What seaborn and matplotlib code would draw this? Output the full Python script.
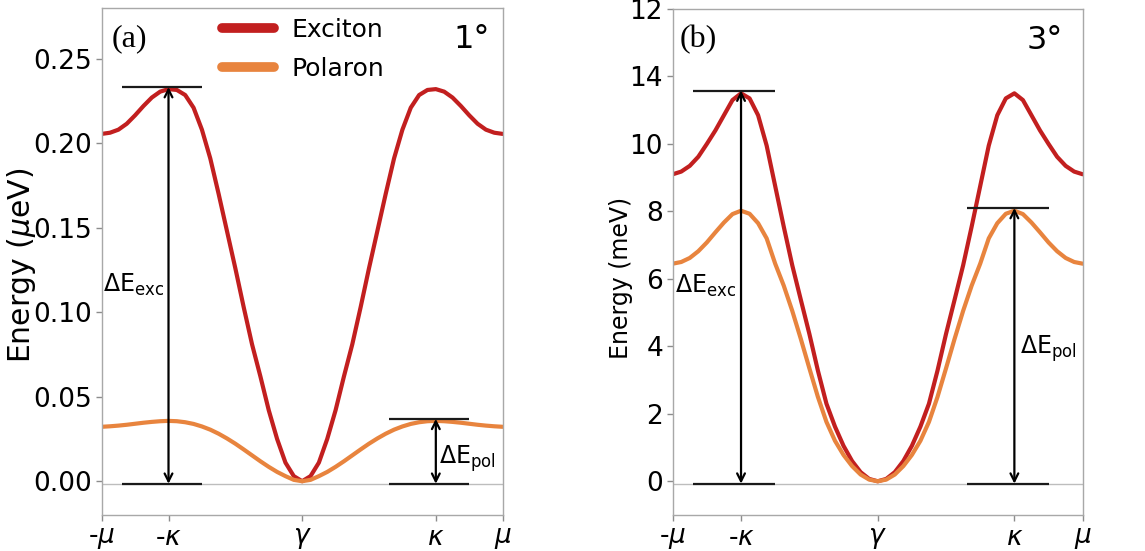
import numpy as np
import pandas as pd
import matplotlib
matplotlib.use("Agg")
import matplotlib.pyplot as plt
import seaborn as sns

# Momentum path -mu -> -kappa -> gamma -> kappa -> mu, sampled every 1/8
k_path = list(np.round(np.linspace(-3.0, 3.0, 49), 3))
k_tick_pos = [-3, -2, 0, 2, 3]
k_tick_labels = ["-$\\mu$", "-$\\kappa$", "$\\gamma$", "$\\kappa$", "$\\mu$"]

# 1 degree twist: band energies (micro-eV)
exciton_1deg = [0.2055, 0.2062, 0.2080, 0.2115, 0.2165, 0.2220, 0.2270, 0.2305, 0.2320,
                0.2315, 0.2285, 0.2210, 0.2080, 0.1910, 0.1700, 0.1480, 0.1260, 0.1030,
                0.0810, 0.0620, 0.0420, 0.0250, 0.0110, 0.0030,
                0.0,
                0.0030, 0.0110, 0.0250, 0.0420, 0.0620, 0.0810, 0.1030, 0.1260, 0.1480,
                0.1700, 0.1910, 0.2080, 0.2210, 0.2285, 0.2315, 0.2320, 0.2305, 0.2270,
                0.2220, 0.2165, 0.2115, 0.2080, 0.2062, 0.2055]
polaron_1deg = [0.0322, 0.0325, 0.0329, 0.0334, 0.0340, 0.0346, 0.0351, 0.0355, 0.0357,
                0.0355, 0.0349, 0.0339, 0.0324, 0.0305, 0.0281, 0.0253, 0.0222, 0.0188,
                0.0153, 0.0118, 0.0085, 0.0055, 0.0030, 0.0008,
                0.0,
                0.0008, 0.0030, 0.0055, 0.0085, 0.0118, 0.0153, 0.0188, 0.0222, 0.0253,
                0.0281, 0.0305, 0.0324, 0.0339, 0.0349, 0.0355, 0.0357, 0.0355, 0.0351,
                0.0346, 0.0340, 0.0334, 0.0329, 0.0325, 0.0322]

# 3 degree twist: band energies (meV)
exciton_3deg = [9.10, 9.18, 9.35, 9.62, 10.00, 10.40, 10.85, 11.30, 11.50,
                11.35, 10.85, 9.95, 8.75, 7.55, 6.40, 5.38, 4.37, 3.28,
                2.30, 1.62, 1.05, 0.60, 0.27, 0.07,
                0.0,
                0.07, 0.27, 0.60, 1.05, 1.62, 2.30, 3.28, 4.37, 5.38,
                6.40, 7.55, 8.75, 9.95, 10.85, 11.35, 11.50, 11.30, 10.85,
                10.40, 10.00, 9.62, 9.35, 9.18, 9.10]
polaron_3deg = [6.45, 6.50, 6.62, 6.82, 7.08, 7.38, 7.67, 7.92, 8.02,
                7.93, 7.65, 7.20, 6.45, 5.80, 5.05, 4.22, 3.35, 2.50,
                1.76, 1.20, 0.78, 0.45, 0.20, 0.05,
                0.0,
                0.05, 0.20, 0.45, 0.78, 1.20, 1.76, 2.50, 3.35, 4.22,
                5.05, 5.80, 6.45, 7.20, 7.65, 7.93, 8.02, 7.92, 7.67,
                7.38, 7.08, 6.82, 6.62, 6.50, 6.45]

y_ticks_1deg = [0.0, 0.05, 0.10, 0.15, 0.20, 0.25]
y_labels_1deg = ["0.00", "0.05", "0.10", "0.15", "0.20", "0.25"]
y_ticks_3deg = [0, 2, 4, 6, 8, 10, 12, 14]
y_labels_3deg = ["0", "2", "4", "6", "8", "10", "14", "12"]

band_names = ["Exciton", "Polaron"]
RED = "#C21F1F"
ORANGE = "#E8843E"

sns.set_theme(style="white")
plt.rcParams["font.family"] = ["DejaVu Sans"]
plt.rcParams["mathtext.fontset"] = "dejavusans"
plt.rcParams["text.color"] = "black"
plt.rcParams["axes.labelcolor"] = "black"

fig = plt.figure(figsize=(11.45, 5.51), dpi=100)
ax_a = fig.add_axes([0.0888, 0.0653, 0.3502, 0.9202])
ax_b = fig.add_axes([0.5875, 0.0653, 0.3581, 0.9184])

panels = [
    dict(ax=ax_a, exc=exciton_1deg, pol=polaron_1deg, ylim=(-0.020, 0.280),
         yt=y_ticks_1deg, yl=y_labels_1deg, ylabel="Energy ($\\mu$eV)", ylabel_size=21.5,
         ylabel_xy=(-0.160, 0.493), base=-0.0015, pad=0.0012, tag="(a)", angle="1°",
         tag_x=0.026, angle_x=0.968,
         exc_text=(-2.07, 0.116), pol_text=(2.05, 0.0136)),
    dict(ax=ax_b, exc=exciton_3deg, pol=polaron_3deg, ylim=(-1.0, 14.0),
         yt=y_ticks_3deg, yl=y_labels_3deg, ylabel="Energy (meV)", ylabel_size=17,
         ylabel_xy=(-0.098, 0.468), base=-0.07, pad=0.08, tag="(b)", angle="3°",
         tag_x=0.018, angle_x=0.952,
         exc_text=(-2.07, 5.8), pol_text=(2.08, 3.94)),
]

for i, p in enumerate(panels):
    ax = p["ax"]
    df = pd.DataFrame({
        "k": k_path + k_path,
        "E": p["exc"] + p["pol"],
        "band": [band_names[0]] * len(k_path) + [band_names[1]] * len(k_path),
    })
    ax.axhline(p["base"], color="#bdbdbd", lw=1.0, zorder=0.5)
    sns.lineplot(data=df, x="k", y="E", hue="band", hue_order=band_names,
                 palette={"Exciton": RED, "Polaron": ORANGE}, linewidth=3.0,
                 sort=False, ax=ax, legend=(i == 0), zorder=2)

    exc_peak = p["exc"][k_path.index(-2.0)]
    pol_peak = p["pol"][k_path.index(2.0)]
    top_exc = exc_peak + p["pad"]
    top_pol = pol_peak + p["pad"]

    # reference levels around the high-symmetry points
    ax.hlines([top_exc, p["base"]], -2.7, -1.5, color="#1a1a1a", lw=1.6, zorder=3)
    ax.hlines([top_pol, p["base"]], 1.3, 2.5, color="#1a1a1a", lw=1.6, zorder=3)

    arrow = dict(arrowstyle="<->", lw=1.6, color="black", shrinkA=0, shrinkB=0,
                 mutation_scale=14)
    ax.annotate("", xy=(-2.0, top_exc), xytext=(-2.0, p["base"]), arrowprops=arrow, zorder=4)
    ax.annotate("", xy=(2.0, top_pol), xytext=(2.0, p["base"]), arrowprops=arrow, zorder=4)

    ax.text(*p["exc_text"], "ΔE$_\\mathregular{exc}$", ha="right", va="center", fontsize=17)
    ax.text(*p["pol_text"], "ΔE$_\\mathregular{pol}$", ha="left", va="center", fontsize=17)

    ax.text(p["tag_x"], 0.968, p["tag"], transform=ax.transAxes, ha="left", va="top",
            fontsize=23, family=["Liberation Serif"])
    ax.text(p["angle_x"], 0.968, p["angle"], transform=ax.transAxes, ha="right", va="top",
            fontsize=23)

    ax.set_xlim(-3, 3)
    ax.set_ylim(*p["ylim"])
    ax.set_xticks(k_tick_pos)
    ax.set_xticklabels(k_tick_labels)
    ax.set_yticks(p["yt"])
    ax.set_yticklabels(p["yl"])
    ax.set_xlabel("")
    ax.set_ylabel(p["ylabel"], fontsize=p["ylabel_size"])
    ax.yaxis.set_label_coords(*p["ylabel_xy"])
    ax.tick_params(axis="both", which="major", labelsize=19, length=4, width=1,
                   color="#8c8c8c", labelcolor="black", direction="out",
                   left=True, bottom=True, pad=3)
    for s in ax.spines.values():
        s.set_color("#a8a8a8")
        s.set_linewidth(1.0)

handles, labels = ax_a.get_legend_handles_labels()
leg = ax_a.legend(handles, labels, loc="upper left", bbox_to_anchor=(0.293, 0.986),
                  frameon=False, fontsize=18, handlelength=2.1, handletextpad=0.7,
                  labelspacing=0.6, borderpad=0.1, borderaxespad=0)
for h in leg.get_lines():
    h.set_linewidth(7)

fig.savefig("out.png", dpi=100)
